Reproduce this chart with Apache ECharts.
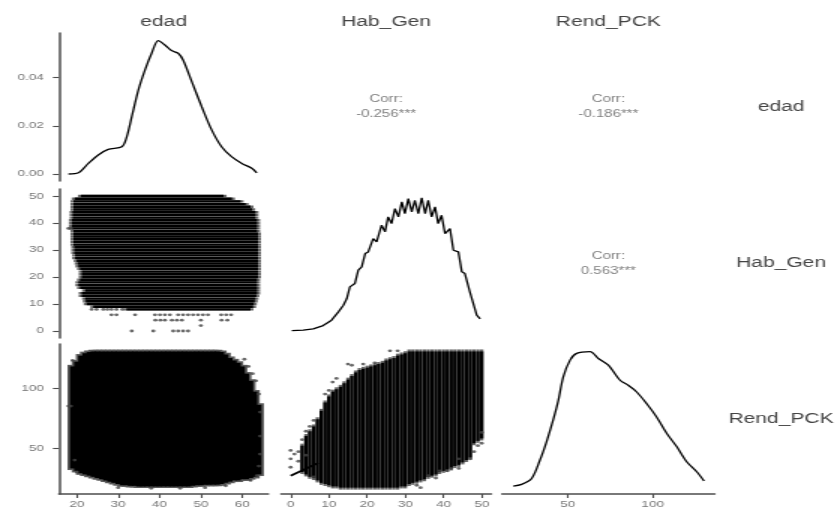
<!DOCTYPE html>
<html>
<head>
<meta charset="utf-8">
<script src="https://cdn.jsdelivr.net/npm/echarts@6/dist/echarts.min.js"></script>
<style>
  html, body { margin: 0; padding: 0; background: #fff; overflow: hidden; }
  /* the reference is a ggpairs plot stretched sideways, so draw at 560 wide and stretch */
  #chart { width: 560px; height: 511px; transform: scaleX(1.5); transform-origin: 0 0; }
</style>
</head>
<body>
<div id="chart"></div>
<script>
var varNames = ['edad', 'Hab_Gen', 'Rend_PCK'];
var corrLabels = ['-0.256***', '-0.186***', '0.563***'];

var edadTicks = [20, 30, 40, 50, 60];
var habTicks = [0, 10, 20, 30, 40, 50];
var rendTicks = [50, 100];
var densTicks = [0, 0.02, 0.04];

// diagonal densities
var edadDensX = [18, 20.4, 22.8, 25.2, 27.6, 30.9, 32.1, 33.3, 34.9, 36.5, 38.1, 39.7, 41.3, 42.9, 44.5, 45.7, 47.8, 50.2, 52.6, 55.0, 57.4, 59.9, 62.3, 63.5];
var edadDensY = [0, 0.0005, 0.0044, 0.0079, 0.0102, 0.0113, 0.0155, 0.0238, 0.0349, 0.0432, 0.0501, 0.0553, 0.0535, 0.0512, 0.0501, 0.0473, 0.0383, 0.0279, 0.0183, 0.0113, 0.0072, 0.0044, 0.0024, 0.0005];

var habDensX = [0.3, 3.3, 5.9, 8.5, 10.7, 12.5, 13.8, 14.7, 15.5, 16.8, 17.7, 18.6, 19.5, 20.3, 21.6, 22.5, 23.8, 24.7, 25.5, 26.4, 27.3, 28.2, 29.1, 29.9, 30.8, 31.7, 32.5, 33.4, 34.3, 35.2, 36.0, 36.9, 37.8, 38.6, 39.5, 40.4, 41.7, 42.6, 43.9, 44.8, 45.6, 46.9, 48.2, 48.7, 49.6];
var habDensY = [0.0001, 0.0002, 0.0005, 0.0013, 0.0026, 0.0046, 0.0062, 0.0078, 0.0106, 0.0114, 0.0146, 0.0154, 0.0186, 0.0190, 0.0222, 0.0214, 0.0254, 0.0238, 0.0274, 0.0258, 0.0294, 0.0274, 0.0310, 0.0282, 0.0318, 0.0286, 0.0314, 0.0282, 0.0320, 0.0282, 0.0314, 0.0274, 0.0298, 0.0258, 0.0278, 0.0234, 0.0246, 0.0194, 0.0190, 0.0142, 0.0138, 0.0094, 0.0054, 0.0038, 0.0029];

var rendDensX = [18.0, 22.9, 28.8, 33.7, 37.6, 41.5, 44.5, 47.4, 51.4, 55.3, 63.1, 68.0, 73.9, 80.8, 85.6, 90.6, 96.5, 102.4, 108.2, 114.1, 120.0, 125.9, 130.2];
var rendDensY = [0, 0.0002, 0.0009, 0.0031, 0.0053, 0.0079, 0.0102, 0.0130, 0.0150, 0.0158, 0.0160, 0.0152, 0.0144, 0.0126, 0.0120, 0.0112, 0.0098, 0.0082, 0.0063, 0.0047, 0.0029, 0.0017, 0.0006];

// Hab_Gen vs edad: dense rows, one per Hab_Gen value (edad span of each row)
var bandHab = [8, 9, 10, 11, 12, 13, 14, 15, 16, 17, 18, 19, 20, 21, 22, 23, 24, 25, 26, 27, 28, 29, 30, 31, 32, 33, 34, 35, 36, 37, 38, 39, 40, 41, 42, 43, 44, 45, 46, 47, 48, 49, 50];
var edadLoByHab = [32, 24, 22.4, 22.2, 22, 21.2, 21.2, 22, 20.8, 20.4, 20.4, 20.8, 21.2, 21.2, 21.2, 20.8, 20.4, 20.2, 20, 19.6, 19.6, 19.4, 19.4, 19.4, 19.2, 19.2, 19.2, 19.2, 19.2, 19.2, 18.8, 18.8, 18.8, 18.8, 19, 19, 19, 19.2, 19.2, 19.2, 19.2, 19.5, 21];
var edadHiByHab = [62, 62.6, 62.8, 63, 63.2, 63.4, 63.6, 63.6, 63.6, 63.6, 63.6, 63.6, 63.8, 63.8, 63.8, 63.8, 63.8, 63.8, 63.8, 63.8, 63.8, 63.8, 63.8, 63.8, 63.8, 63.8, 63.8, 63.8, 63.8, 63.6, 63.6, 63.6, 63.6, 63.6, 63.2, 63.2, 63.2, 62.4, 62, 60.8, 59.6, 57.5, 55.5];
var edadHabPts = [[18, 38], [18.6, 38], [23.6, 8], [24.8, 8], [26.4, 8], [27.4, 8], [28.4, 8], [29.6, 8], [31, 8],
  [28.4, 6], [29.6, 6], [34.1, 6], [38.9, 6], [40.1, 6], [41.3, 6], [42.5, 6], [44.5, 6], [45.7, 6], [46.9, 6], [48.1, 6], [49.3, 6], [50.5, 6], [51.7, 6], [54.9, 6], [56.1, 6], [57.3, 6],
  [39, 4], [40.2, 4], [41.3, 4], [43, 4], [44.2, 4], [45.4, 4], [50, 4], [55, 4], [56.4, 4],
  [50, 2], [33.3, 0], [38.5, 0], [43.3, 0], [44.5, 0], [45.7, 0], [46.9, 0]];

// Rend_PCK vs edad: dense blob, Rend_PCK span at each edad
var bandEdad = [19, 20, 21, 22, 23, 24, 25, 26, 27, 28, 29, 30, 31, 32, 33, 34, 35, 36, 37, 38, 39, 40, 41, 42, 43, 44, 45, 46, 47, 48, 49, 50, 51, 52, 53, 54, 55, 56, 57, 58, 59, 60, 61, 62, 63, 64];
var rendLoByEdad = [33, 31, 29, 28, 27, 26, 25, 24, 23, 22, 21, 20, 19, 19, 18.5, 18.5, 18, 18, 18, 18, 18, 18, 18, 18, 18, 18, 18, 18, 18, 18.5, 19, 19, 19.5, 19.5, 19.5, 19.5, 20, 21, 22, 23, 23, 24, 24, 25, 26, 28];
var rendHiByEdad = [118, 122, 127, 129, 130, 130.5, 130.5, 130.5, 130.5, 130.5, 130.5, 130.5, 130.5, 130.5, 130.5, 130.5, 130.5, 130.5, 130.5, 130.5, 130.5, 130.5, 130.5, 130.5, 130.5, 130.5, 130.5, 130.5, 130.5, 130.5, 130.5, 130.5, 130.5, 130.5, 130.5, 130.5, 130, 128, 125, 123, 121, 118, 112, 106, 97, 86];
var edadRendPts = [[18, 85], [18.6, 85], [19, 123], [19.5, 40], [20, 30], [60.5, 124], [61.5, 118], [62.5, 112], [63.3, 106], [64, 95],
  [64.3, 80], [64.3, 60], [64.3, 45], [64, 35], [30, 17], [38, 16.5], [45, 16.5], [51, 17], [56, 18.5], [62, 23], [63.5, 27]];

// Rend_PCK vs Hab_Gen: one column per Hab_Gen value
var colHab = [3, 4, 5, 6, 7, 8, 9, 10, 11, 12, 13, 14, 15, 16, 17, 18, 19, 20, 21, 22, 23, 24, 25, 26, 27, 28, 29, 30, 31, 32, 33, 34, 35, 36, 37, 38, 39, 40, 41, 42, 43, 44, 45, 46, 47, 48, 49, 50];
var rendLoByHab = [30, 28, 26, 25, 23, 21, 20, 19, 18, 18, 17, 17, 17, 17, 17, 17, 17, 17, 17, 17, 17, 17, 17, 17, 17, 17, 18, 18, 20, 21, 22, 23, 24, 26, 27, 28, 30, 31, 32, 33, 35, 36, 38, 40, 42, 54, 56, 58];
var rendHiByHab = [52, 60, 64, 68, 74, 81, 88, 93, 97, 99, 101, 104, 107, 110, 113, 115, 116, 117, 118, 119, 120, 121, 123, 124, 125, 127, 128, 129, 130.5, 130.5, 130.5, 130.5, 130.5, 130.5, 130.5, 130.5, 130.5, 130.5, 130.5, 130.5, 130.5, 130.5, 130.5, 130.5, 130.5, 130.5, 130.5, 130.5];
var habRendPts = [[0, 48], [0, 41], [0, 34], [1, 45], [2, 47], [2, 39], [3, 57], [4, 64], [4, 44], [5, 68], [6, 73], [6, 26],
  [9, 95], [10, 98], [11, 105], [12, 108], [15, 120], [16, 119], [19, 120], [22, 121], [26, 131], [28, 131],
  [33, 19], [34, 17], [36, 27], [38, 25], [39, 31], [41, 31], [42, 33], [44, 33], [44, 41], [47, 41], [48, 47], [49, 52], [50, 54], [50, 63]];
var habRendLine = [[0, 27], [7.2, 37.5]];

var FONT = '"Liberation Sans", Arial, sans-serif';
var AXIS_COLOR = '#4d4d4d';

function zip(xs, ys) {
  return xs.map(function (x, i) { return [x, ys[i]]; });
}

function axis(grid, min, max, ticks, margin, fmt) {
  var shown = !!ticks;
  return {
    type: 'value', gridIndex: grid, min: min, max: max, show: shown,
    axisLine: { show: shown, onZero: false, lineStyle: { color: AXIS_COLOR, width: 1.5 } },
    axisTick: { show: shown, length: 4, customValues: ticks || [], lineStyle: { color: AXIS_COLOR, width: 1.1 } },
    axisLabel: { show: shown, customValues: ticks || [], margin: margin, formatter: fmt,
      fontSize: 9, color: '#777', fontFamily: FONT },
    splitLine: { show: false }
  };
}

function rowRender(color, ext) {
  return function (params, api) {
    var a = api.coord([api.value(0), api.value(2)]);
    var b = api.coord([api.value(1), api.value(2)]);
    return { type: 'line', shape: { x1: a[0] - ext, y1: a[1], x2: b[0] + ext, y2: b[1] },
      style: { stroke: color, lineWidth: 2.4 } };
  };
}

function colRender(color, ext, width) {
  return function (params, api) {
    var a = api.coord([api.value(0), api.value(2)]);
    var b = api.coord([api.value(0), api.value(1)]);
    return { type: 'line', shape: { x1: a[0], y1: a[1] - ext, x2: b[0], y2: b[1] + ext },
      style: { stroke: color, lineWidth: width } };
  };
}

function blockRender(color, pad) {
  return function (params, api) {
    var a = api.coord([api.value(0) - 0.5, api.value(2)]);
    var b = api.coord([api.value(0) + 0.5, api.value(1)]);
    return { type: 'rect', shape: { x: a[0] - pad - 0.4, y: a[1] - pad, width: b[0] - a[0] + 2 * pad + 0.8, height: b[1] - a[1] + 2 * pad },
      style: { fill: color } };
  };
}

function densLine(xi, yi, data, smooth) {
  return { type: 'line', xAxisIndex: xi, yAxisIndex: yi, data: data, showSymbol: false, smooth: smooth,
    lineStyle: { color: '#000', width: 1.3 }, silent: true };
}

function pts(xi, yi, data, size) {
  return { type: 'scatter', xAxisIndex: xi, yAxisIndex: yi, data: data, symbolSize: size || 2.8,
    itemStyle: { color: '#444' }, silent: true };
}

var rowData = bandHab.map(function (h, i) { return [edadLoByHab[i], edadHiByHab[i], h]; });
var blockData = bandEdad.map(function (e, i) { return [e, rendLoByEdad[i], rendHiByEdad[i]]; });
var colData = colHab.map(function (h, i) { return [h, rendLoByHab[i], rendHiByHab[i]]; });

var colCenters = [109.1, 257.4, 405.6];
var rowCenters = [107, 263.5, 419];

var graphics = [];
varNames.forEach(function (name, i) {
  graphics.push({ type: 'text', x: colCenters[i], y: 22.5,
    style: { text: name, font: '14px ' + FONT, fill: '#444', align: 'center', verticalAlign: 'middle' } });
  graphics.push({ type: 'text', x: 520.7, y: rowCenters[i],
    style: { text: name, font: '14px ' + FONT, fill: '#444', align: 'center', verticalAlign: 'middle' } });
});
var corrPos = [[colCenters[1], rowCenters[0]], [colCenters[2], rowCenters[0]], [colCenters[2], rowCenters[1]]];
corrPos.forEach(function (p, i) {
  graphics.push({ type: 'text', x: p[0], y: p[1],
    style: { text: 'Corr:\n' + corrLabels[i], font: '10px ' + FONT, lineHeight: 15, fill: '#808080',
      align: 'center', verticalAlign: 'middle' } });
});

var chart = echarts.init(document.getElementById('chart'));
chart.setOption({
  animation: false,
  textStyle: { fontFamily: FONT },
  grid: [
    { left: 39.3, top: 33, width: 139.6, height: 148 },
    { left: 39.3, top: 189, width: 139.6, height: 149 },
    { left: 187.4, top: 189, width: 140.1, height: 149 },
    { left: 39.3, top: 344, width: 139.6, height: 150 },
    { left: 187.4, top: 344, width: 140.1, height: 150 },
    { left: 334.6, top: 344, width: 141.9, height: 150 }
  ],
  xAxis: [
    axis(0, 15.7, 66.3, null),
    axis(1, 15.7, 66.3, null),
    axis(2, -2.5, 52.5, null),
    axis(3, 15.7, 66.3, edadTicks, 6),
    axis(4, -2.5, 52.5, habTicks, 6),
    axis(5, 11.3, 136.5, rendTicks, 6)
  ],
  yAxis: [
    axis(0, -0.0029, 0.0585, densTicks, 10, function (v) { return v.toFixed(2); }),
    axis(1, -2.6, 52.6, habTicks, 10),
    axis(2, -0.00168, 0.0341, null),
    axis(3, 11.7, 136.7, rendTicks, 10),
    axis(4, 11.7, 136.7, null),
    axis(5, -0.00095, 0.01692, null)
  ],
  graphic: graphics,
  series: [
    densLine(0, 0, zip(edadDensX, edadDensY), 0.3),

    { type: 'custom', xAxisIndex: 1, yAxisIndex: 1, data: rowData, encode: { x: [0, 1], y: 2 },
      renderItem: rowRender('#6a6a6a', 2), silent: true },
    { type: 'custom', xAxisIndex: 1, yAxisIndex: 1, data: rowData, encode: { x: [0, 1], y: 2 },
      renderItem: rowRender('#000', 0), silent: true },
    pts(1, 1, edadHabPts),

    densLine(2, 2, zip(habDensX, habDensY), false),

    { type: 'custom', xAxisIndex: 3, yAxisIndex: 3, data: blockData, encode: { x: 0, y: [1, 2] },
      renderItem: blockRender('#5a5a5a', 1.6), silent: true },
    { type: 'custom', xAxisIndex: 3, yAxisIndex: 3, data: blockData, encode: { x: 0, y: [1, 2] },
      renderItem: blockRender('#000', 0), silent: true },
    pts(3, 3, edadRendPts),

    { type: 'custom', xAxisIndex: 4, yAxisIndex: 4, data: colData, encode: { x: 0, y: [1, 2] },
      renderItem: colRender('#666', 2, 2.3), silent: true },
    { type: 'custom', xAxisIndex: 4, yAxisIndex: 4, data: colData, encode: { x: 0, y: [1, 2] },
      renderItem: colRender('#000', 0, 2.3), silent: true },
    pts(4, 4, habRendPts),
    { type: 'line', xAxisIndex: 4, yAxisIndex: 4, data: habRendLine, showSymbol: false,
      lineStyle: { color: '#000', width: 1.8 }, silent: true },

    densLine(5, 5, zip(rendDensX, rendDensY), 0.3)
  ]
});
</script>
</body>
</html>
